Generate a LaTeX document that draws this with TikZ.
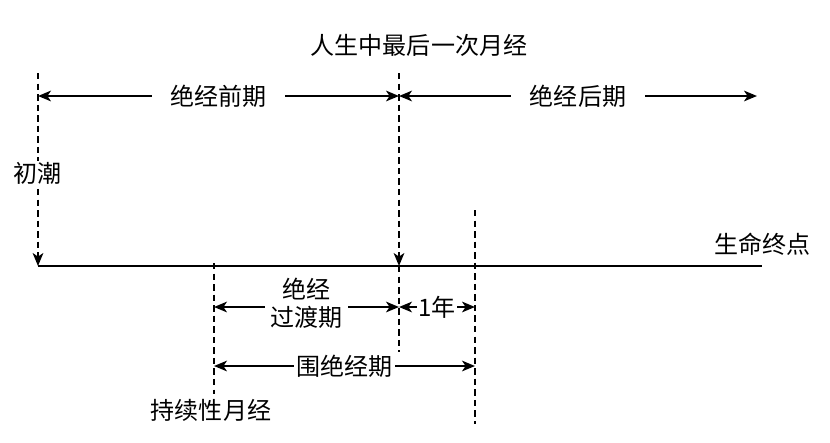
\documentclass[tikz,border=0pt]{standalone}
\usepackage{fontspec}
\setmainfont{Noto Sans CJK SC}
\usetikzlibrary{arrows.meta, positioning}

\begin{document}
\begin{tikzpicture}[x=0.03cm, y=-0.03cm, >={Stealth[length=11pt, width=9pt, inset=3pt]},
    every node/.style={font=\fontsize{20.5pt}{24pt}\selectfont, inner sep=1pt},
    axis/.style={line width=2pt},
    guide/.style={line width=2pt, dash pattern=on 5.5pt off 3.5pt},
    span/.style={<->, line width=2pt},
    lbl/.style={fill=white, inner xsep=16pt},
]
\useasboundingbox (0,0) rectangle (830,443);
% points on the life line
\coordinate (men) at (38,266);
\coordinate (last) at (399,266);
\coordinate (trans) at (214,266);
\coordinate (oneyr) at (475,266);
\coordinate (fin) at (762,266);
% ends of the guide lines
\coordinate (menTop) at (38,73);
\coordinate (lastTop) at (399,73);
\coordinate (lastBot) at (399,352);
\coordinate (transTop) at (214,263);
\coordinate (transBot) at (214,394);
\coordinate (oneyrTop) at (475,210);
\coordinate (oneyrBot) at (475,424);

\draw[axis] (men) -- (fin);
\draw[guide,->] (menTop) -- (men);
\draw[guide,->] (lastTop) -- (last);
\draw[guide] (last) -- (lastBot);
\draw[guide] (transTop) -- (transBot);
\draw[guide] (oneyrTop) -- (oneyrBot);

\node[fill=white] (menarche) at (38,173) {初潮};
\node (lastmen) at (419,45) {人生中最后一次月经};
\node[anchor=east] (death) at (812,244) {生命终点};
\node (regular) at (211,410) {持续性月经};

% periods
\coordinate (preL) at (38,96);
\coordinate (preR) at (399,96);
\coordinate (postR) at (757,96);
\coordinate (trL) at (214,307);
\coordinate (trR) at (399,307);
\coordinate (yrR) at (475,307);
\coordinate (periL) at (214,366);
\coordinate (periR) at (475,366);

\draw[span] (preL) -- node[lbl] (pre) {绝经前期} (preR);
\draw[span] (preR) -- node[lbl] (post) {绝经后期} (postR);
\draw[span] (trL) -- node[fill=white, align=center, inner xsep=5pt, yshift=3pt] (tr) {绝经\\过渡期} (trR);
\draw[span] (trR) -- node[fill=white] (yr) {1年} (yrR);
\draw[span] (periL) -- node[fill=white, inner xsep=2pt] (peri) {围绝经期} (periR);
\end{tikzpicture}
\end{document}
